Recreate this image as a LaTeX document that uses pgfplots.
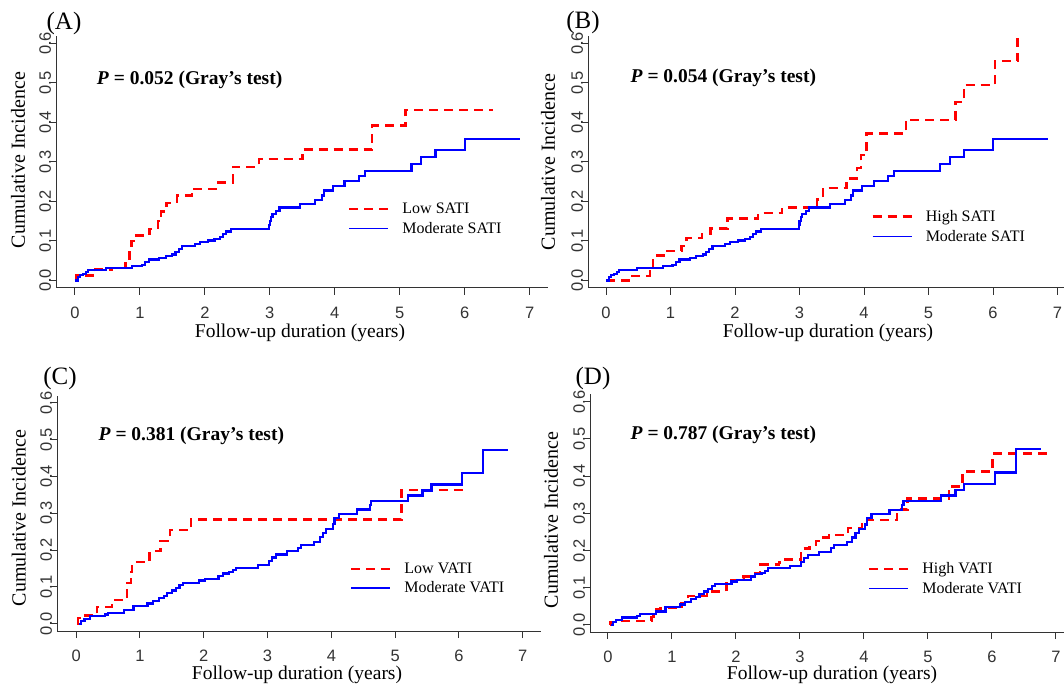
\documentclass[border=0pt]{standalone}
\usepackage{pgfplots}
\pgfplotsset{compat=1.18}
\usepackage{fontspec}
\setmainfont{Liberation Serif}
\newfontfamily\arialfont{Liberation Sans}

\definecolor{axisgray}{HTML}{333333}

\pgfplotsset{
  cumfig/.style={
    scale only axis,
    axis lines=left,
    axis line style={-, axisgray, line width=1pt},
    tick style={axisgray, line width=1pt},
    tick align=outside,
    major tick length=7pt,
    xtick={0,1,2,3,4,5,6,7},
    ytick={0,0.1,0.2,0.3,0.4,0.5,0.6},
    xmax=7.28, ymax=0.62,
    /pgf/number format/assume math mode=true,
    ticklabel style={font=\arialfont\fontsize{16.5}{16.5}\selectfont, text=axisgray},
    xticklabel style={inner sep=0pt, yshift=-11.5pt},
    yticklabel style={rotate=90, anchor=south, yshift=-5.5pt,
      /pgf/number format/fixed, /pgf/number format/precision=1,
      /pgf/number format/fixed zerofill},
    clip=false,
    legend style={draw=none, fill=none, inner sep=0pt, row sep=7pt,
      font=\fontsize{16}{16}\selectfont,
      nodes={inner sep=0pt},
      cells={anchor=west}, column sep=0pt},
    legend image code/.code={\draw[#1] (0pt,0pt) -- (39pt,0pt);},
  },
  redcurve/.style={red, const plot, line width=2.4pt, dash pattern=on 9pt off 6pt},
  bluecurve/.style={blue, const plot, line width=2.2pt},
  redkey/.style={draw=red, line width=2.4pt, dash pattern=on 9pt off 6pt},
  bluekey/.style={draw=blue, line width=1.4pt},
}

% Moderate SATI (panels A and B)
\pgfplotstableread{
x y
0.00 0.000
0.03 0.000
0.05 0.008
0.08 0.013
0.12 0.017
0.17 0.022
0.20 0.027
0.48 0.031
0.88 0.036
1.03 0.040
1.08 0.046
1.14 0.053
1.30 0.057
1.40 0.062
1.50 0.066
1.55 0.072
1.60 0.080
1.65 0.087
1.85 0.092
1.92 0.097
2.05 0.101
2.15 0.106
2.23 0.111
2.28 0.118
2.33 0.124
2.40 0.130
2.99 0.140
3.00 0.150
3.02 0.160
3.04 0.168
3.10 0.176
3.15 0.185
3.47 0.194
3.70 0.203
3.80 0.215
3.83 0.228
3.97 0.240
4.15 0.252
4.37 0.265
4.47 0.278
5.18 0.294
5.33 0.312
5.55 0.330
6.00 0.358
6.85 0.358
}\modsati

% Low SATI (panel A)
\pgfplotstableread{
x y
0.00 0.000
0.02 0.013
0.32 0.028
0.57 0.031
0.78 0.045
0.84 0.075
0.87 0.100
0.90 0.114
1.15 0.131
1.28 0.150
1.33 0.175
1.41 0.196
1.57 0.215
1.80 0.232
2.20 0.248
2.43 0.287
2.83 0.307
3.50 0.332
4.57 0.392
5.09 0.432
6.43 0.432
}\lowsati

% High SATI (panel B)
\pgfplotstableread{
x y
0.00 0.000
0.38 0.012
0.68 0.035
0.73 0.063
0.92 0.075
1.17 0.088
1.25 0.108
1.49 0.118
1.62 0.132
1.88 0.157
2.36 0.171
2.73 0.185
3.27 0.205
3.36 0.234
3.73 0.258
3.89 0.285
3.95 0.317
4.04 0.372
4.65 0.407
5.42 0.452
5.55 0.495
6.03 0.555
6.38 0.615
}\highsati

% Moderate VATI (panels C and D)
\pgfplotstableread{
x y
0.05 0.000
0.08 0.008
0.13 0.013
0.22 0.020
0.45 0.025
0.50 0.030
0.75 0.036
0.90 0.048
1.12 0.055
1.20 0.062
1.30 0.070
1.38 0.076
1.43 0.083
1.50 0.090
1.56 0.096
1.62 0.104
1.67 0.111
1.93 0.117
2.02 0.121
2.23 0.130
2.30 0.136
2.40 0.140
2.46 0.146
2.50 0.152
2.85 0.159
3.02 0.170
3.07 0.180
3.13 0.188
3.30 0.197
3.48 0.206
3.53 0.214
3.73 0.222
3.82 0.235
3.87 0.247
3.92 0.258
4.02 0.270
4.05 0.287
4.12 0.298
4.40 0.310
4.60 0.322
4.62 0.334
5.20 0.348
5.43 0.362
5.57 0.378
6.05 0.410
6.38 0.472
6.77 0.472
}\modvati

% Low VATI (panel C)
\pgfplotstableread{
x y
0.02 0.000
0.03 0.015
0.10 0.022
0.33 0.046
0.56 0.064
0.75 0.072
0.80 0.110
0.86 0.140
0.88 0.167
1.15 0.197
1.32 0.225
1.47 0.254
1.80 0.283
5.10 0.363
6.15 0.363
}\lowvati

% High VATI (panel D)
\pgfplotstableread{
x y
0.03 0.000
0.04 0.008
0.12 0.010
0.68 0.022
0.71 0.032
0.75 0.042
0.82 0.045
1.10 0.050
1.15 0.058
1.20 0.065
1.25 0.078
1.55 0.090
1.85 0.120
2.05 0.125
2.12 0.130
2.30 0.140
2.38 0.162
2.67 0.168
2.75 0.176
3.02 0.205
3.15 0.215
3.25 0.225
3.35 0.235
3.45 0.242
3.75 0.260
3.97 0.275
4.05 0.282
4.52 0.310
4.68 0.340
5.33 0.372
5.54 0.413
6.01 0.461
6.89 0.461
}\highvati

\begin{document}
\begin{tikzpicture}
\path[use as bounding box] (0pt,0pt) rectangle (1064pt,688pt);

% (A)
\begin{axis}[cumfig, at={(56pt,400pt)}, anchor=south west,
  width=492pt, height=252.4pt, xmin=-0.29, ymin=-0.019,
  legend style={at={(axis cs:4.2,0.197)}, anchor=north west}]
\addplot[redcurve, forget plot] table {\lowsati};
\addplot[bluecurve, forget plot] table {\modsati};
\addlegendimage{redkey}
\addlegendentry{\hspace{13pt}Low SATI}
\addlegendimage{bluekey}
\addlegendentry{\hspace{13pt}Moderate SATI}
\end{axis}

% (B)
\begin{axis}[cumfig, at={(588pt,400pt)}, anchor=south west,
  width=487.6pt, height=252.4pt, xmin=-0.28, ymin=-0.019,
  legend style={at={(axis cs:4.11,0.178)}, anchor=north west}]
\addplot[redcurve, forget plot] table {\highsati};
\addplot[bluecurve, forget plot] table {\modsati};
\addlegendimage{redkey}
\addlegendentry{\hspace{13pt}High SATI}
\addlegendimage{bluekey}
\addlegendentry{\hspace{13pt}Moderate SATI}
\end{axis}

% (C)
\begin{axis}[cumfig, at={(57pt,57pt)}, anchor=south west,
  width=483.6pt, height=235.5pt, xmin=-0.30, ymin=-0.020,
  legend style={at={(axis cs:4.29,0.166)}, anchor=north west}]
\addplot[redcurve, forget plot] table {\lowvati};
\addplot[bluecurve, forget plot] table {\modvati};
\addlegendimage{redkey}
\addlegendentry{\hspace{13pt}Low VATI}
\addlegendimage{bluekey}
\addlegendentry{\hspace{13pt}Moderate VATI}
\end{axis}

% (D)
\begin{axis}[cumfig, at={(590pt,56pt)}, anchor=south west,
  width=483.8pt, height=237.7pt, xmin=-0.28, ymin=-0.019,
  legend style={at={(axis cs:4.06,0.168)}, anchor=north west}]
\addplot[redcurve, forget plot] table {\highvati};
\addplot[bluecurve, forget plot] table {\modvati};
\addlegendimage{redkey}
\addlegendentry{\hspace{13pt}High VATI}
\addlegendimage{bluekey}
\addlegendentry{\hspace{13pt}Moderate VATI}
\end{axis}

% panel letters
\begin{scope}[every node/.style={inner sep=0pt, font=\fontsize{25}{25}\selectfont}]
\node at (64pt,665pt) {(A)};
\node at (583pt,666pt) {(B)};
\node at (60pt,310pt) {(C)};
\node at (593pt,310pt) {(D)};
\end{scope}

% test results
\begin{scope}[every node/.style={inner sep=0pt, anchor=west, font=\fontsize{19.5}{19.5}\selectfont\bfseries}]
\node at (96.7pt,608pt) {\textit{P} = 0.052 (Gray’s test)};
\node at (630.4pt,609.7pt) {\textit{P} = 0.054 (Gray’s test)};
\node at (98.4pt,252pt) {\textit{P} = 0.381 (Gray’s test)};
\node at (630.4pt,253pt) {\textit{P} = 0.787 (Gray’s test)};
\end{scope}

% axis titles
\begin{scope}[every node/.style={inner sep=0pt, font=\fontsize{19.5}{19.5}\selectfont}]
\node at (300pt,355pt) {Follow-up duration (years)};
\node at (828pt,355pt) {Follow-up duration (years)};
\node at (297pt,13pt) {Follow-up duration (years)};
\node at (832pt,13pt) {Follow-up duration (years)};
\node[rotate=90, font=\fontsize{20}{20}\selectfont] at (18pt,528pt) {Cumulative Incidence};
\node[rotate=90, font=\fontsize{20}{20}\selectfont] at (548pt,526pt) {Cumulative Incidence};
\node[rotate=90, font=\fontsize{20}{20}\selectfont] at (18.7pt,170pt) {Cumulative Incidence};
\node[rotate=90, font=\fontsize{20}{20}\selectfont] at (551pt,168pt) {Cumulative Incidence};
\end{scope}
\end{tikzpicture}
\end{document}
